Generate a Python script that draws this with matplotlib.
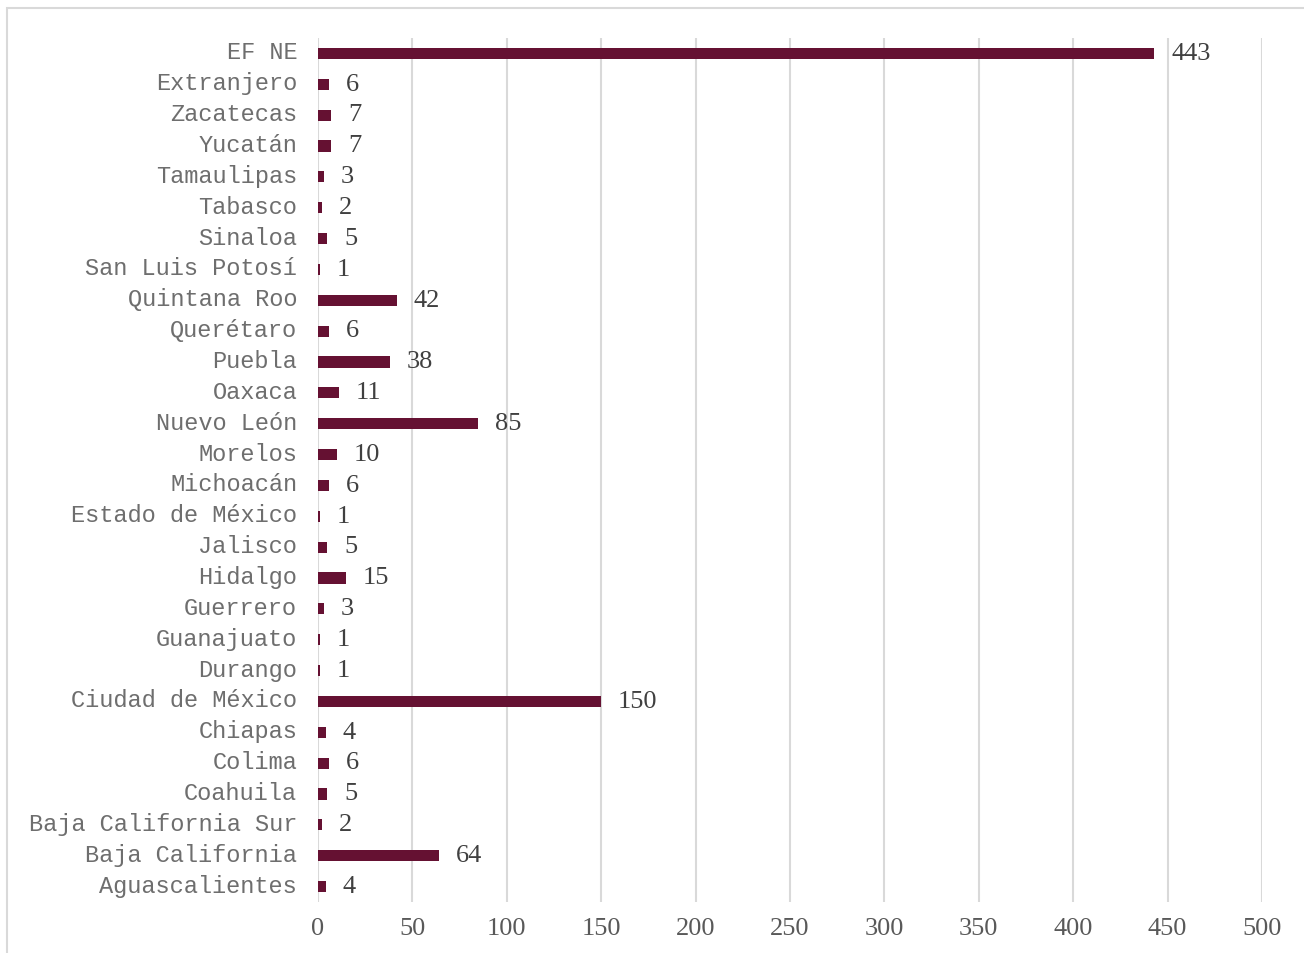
import matplotlib.pyplot as plt
import matplotlib.transforms as mtransforms
from matplotlib.patches import Rectangle

# data, listed bottom to top as drawn
estados = ['Aguascalientes', 'Baja California', 'Baja California Sur', 'Coahuila',
           'Colima', 'Chiapas', 'Ciudad de México', 'Durango', 'Guanajuato',
           'Guerrero', 'Hidalgo', 'Jalisco', 'Estado de México', 'Michoacán',
           'Morelos', 'Nuevo León', 'Oaxaca', 'Puebla', 'Querétaro',
           'Quintana Roo', 'San Luis Potosí', 'Sinaloa', 'Tabasco', 'Tamaulipas',
           'Yucatán', 'Zacatecas', 'Extranjero', 'EF NE']
valores = [4, 64, 2, 5, 6, 4, 150, 1, 1, 3, 15, 5, 1, 6, 10, 85, 11, 38, 6,
           42, 1, 5, 2, 3, 7, 7, 6, 443]
x_ticks = [0, 50, 100, 150, 200, 250, 300, 350, 400, 450, 500]

bar_color = '#651132'
grid_color = '#d9d9d9'
text_color = '#595959'

fig = plt.figure(figsize=(13.04, 9.54), dpi=100)
ax = fig.add_axes([318 / 1304, 1 - 903 / 954, 944 / 1304, 864 / 954])

pos = list(range(len(estados)))
bars = ax.barh(pos, valores, height=0.36, color=bar_color, zorder=3)

for b, v in zip(bars, valores):
    ax.annotate(str(v), (b.get_width(), b.get_y() + b.get_height() / 2),
                xytext=(12, 0.5), textcoords='offset points', va='center', ha='left',
                fontsize=19, family='Liberation Serif', color='#404040')

ax.set_xlim(0, 500)
ax.set_ylim(-0.5, len(estados) - 0.5)
ax.set_xticks(x_ticks)
ax.set_xticklabels([str(t) for t in x_ticks], family='Liberation Serif',
                   fontsize=19, color=text_color)
ax.set_yticks(pos)
ax.set_yticklabels(estados, family='Liberation Mono', fontsize=17,
                   color='#6e6e6e', va='center')
ax.tick_params(axis='y', length=0, pad=15)
ax.tick_params(axis='x', length=0, pad=11)
ax.xaxis.grid(True, color=grid_color, linewidth=1.5, zorder=0)
ax.set_axisbelow(True)
for s in ax.spines.values():
    s.set_visible(False)

# nudge category labels up a little so the capitals sit on the bar centre
shift = mtransforms.ScaledTranslation(0, 1.5 / 100, fig.dpi_scale_trans)
for lbl in ax.get_yticklabels():
    lbl.set_transform(lbl.get_transform() + shift)

# outer chart border
fig.patches.append(Rectangle((7 / 1304, -0.02), 1.05, 1 - 9 / 954 + 0.02,
                             transform=fig.transFigure, fill=False,
                             edgecolor=grid_color, linewidth=1.5))

fig.savefig('out.png', dpi=100)
